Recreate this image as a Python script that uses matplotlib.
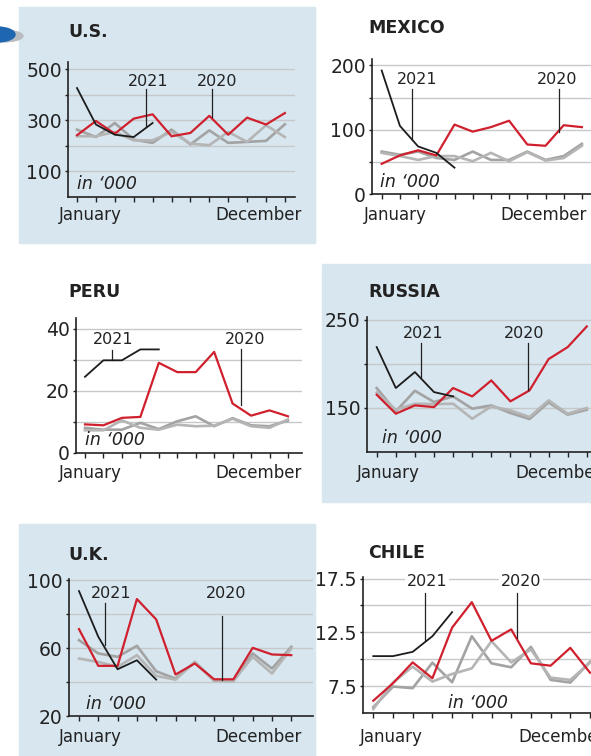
import matplotlib.pyplot as plt
from matplotlib.patches import Rectangle, Ellipse
from matplotlib.lines import Line2D

plt.rcParams['font.family'] = ['DejaVu Sans']

W, H = 591, 756
months = list(range(12))

# ---- data (thousands of arrivals per month) ----
us_2020 = [242, 298, 248, 307, 324, 238, 251, 318, 244, 311, 284, 329]
us_2021 = [427, 284, 244, 235, 290]
us_prev1 = [264, 235, 290, 225, 212, 264, 206, 261, 212, 216, 220, 285]
us_prev2 = [238, 238, 255, 222, 222, 255, 209, 203, 255, 216, 281, 235]

mx_2020 = [47, 60, 68, 60, 108, 97, 104, 114, 77, 75, 107, 104]
mx_2021 = [192, 106, 74, 64, 41]
mx_prev1 = [66, 61, 66, 56, 53, 66, 53, 53, 66, 53, 59, 78]
mx_prev2 = [64, 59, 53, 59, 59, 51, 64, 51, 65, 52, 56, 75]

pe_2020 = [9.2, 8.9, 11.3, 11.6, 29.0, 26.0, 26.0, 32.5, 15.9, 12.0, 13.7, 11.8]
pe_2021 = [24.5, 29.8, 29.8, 33.3, 33.3]
pe_prev1 = [8.1, 7.5, 7.5, 9.7, 7.7, 10.2, 11.8, 8.6, 11.2, 8.9, 8.6, 10.4]
pe_prev2 = [7.3, 7.3, 10.5, 8.1, 7.5, 9.1, 8.6, 8.8, 11.0, 8.6, 8.1, 10.8]

ru_2020 = [164.9, 143.4, 152.8, 150.9, 172.5, 163.0, 181.1, 157.4, 169.8, 205.3, 218.9, 242.3]
ru_2021 = [218.9, 172.5, 190.6, 167.9, 163.0]
ru_prev1 = [172.5, 146.0, 169.4, 156.6, 163.0, 149.1, 152.8, 144.2, 137.4, 156.2, 142.3, 147.9]
ru_prev2 = [167.5, 147.9, 154.7, 154.3, 154.7, 137.7, 151.7, 147.2, 139.6, 158.5, 143.4, 149.8]

uk_2020 = [71.1, 49.5, 49.5, 88.8, 76.8, 44.4, 50.9, 41.6, 41.6, 60.1, 56.2, 55.8]
uk_2021 = [93.5, 66.6, 47.5, 52.8, 41.4]
uk_prev1 = [64.6, 56.8, 54.8, 61.3, 46.3, 42.0, 51.8, 41.0, 40.6, 56.8, 47.9, 60.7]
uk_prev2 = [53.8, 51.8, 48.9, 55.8, 43.6, 41.4, 51.8, 40.6, 40.6, 54.8, 45.0, 59.7]

cl_2020 = [6.14, 7.77, 9.71, 8.23, 12.94, 15.31, 11.71, 12.78, 9.62, 9.40, 11.06, 8.75]
cl_2021 = [10.29, 10.29, 10.69, 12.14, 14.38]
cl_prev1 = [5.55, 7.46, 7.31, 9.68, 7.86, 12.14, 9.62, 9.25, 11.15, 8.08, 7.83, 9.77]
cl_prev2 = [5.37, 7.83, 9.31, 7.92, 8.63, 9.15, 11.68, 9.71, 10.91, 8.29, 8.08, 9.68]

RED = '#d0202e'
BLACK = '#1c1c1c'
GRAY1 = '#a3a3a3'
GRAY2 = '#b5b5b5'
BLUE_BG = '#d7e6ef'
INK = '#222222'

fig = plt.figure(figsize=(W / 100, H / 100), dpi=100)


def fx(x):
    return x / W


def fy(y):
    return 1 - y / H


# light blue panels
for (x0, y0, x1, y1) in [(19, 7, 315, 243), (322, 264, 591, 502), (19, 524, 315, 756)]:
    fig.add_artist(Rectangle((fx(x0), fy(y1)), fx(x1) - fx(x0), fy(y0) - fy(y1),
                             transform=fig.transFigure, color=BLUE_BG, zorder=0))

# piece of logo peeking in at top left
fig.add_artist(Ellipse((fx(2), fy(36)), fx(42), 12 / H, transform=fig.transFigure,
                       color='#b9bcc0', zorder=1))
fig.add_artist(Ellipse((fx(-3), fy(34.5)), fx(36), 15 / H, transform=fig.transFigure,
                       color='#1e67b0', zorder=2))

panels = [
    dict(title='U.S.', d=(us_2020, us_2021, us_prev1, us_prev2),
         grid=[100, 200, 300, 400, 500], ticks=[100, 300, 500], tl=['100', '300', '500'],
         box=(68, 295, 197, 62), x0=77, dx=18.9, ylim=(0, 529),
         tpos=(68, 32), jan=(59, 215), dec=(302, 215, 'right'),
         a21=(148, 81, 146, 89, 127), a20=(217, 81, 212, 89, 117), inn=(77, 184)),
    dict(title='MEXICO', d=(mx_2020, mx_2021, mx_prev1, mx_prev2),
         grid=[50, 100, 150, 200], ticks=[0, 100, 200], tl=['0', '100', '200'],
         box=(372, 600, 194, 59), x0=381.7, dx=18.2, ylim=(0, 210),
         tpos=(368, 28), jan=(364, 215), dec=(587, 215, 'right'),
         a21=(417, 80, 412, 89, 140), a20=(557, 80, 559, 89, 132), inn=(380, 182)),
    dict(title='PERU', d=(pe_2020, pe_2021, pe_prev1, pe_prev2),
         grid=[10, 20, 30, 40], ticks=[0, 20, 40], tl=['0', '20', '40'],
         box=(76, 302, 453, 318), x0=85, dx=18.45, ylim=(0, 43.4),
         tpos=(68, 292), jan=(59, 473), dec=(302, 473, 'right'),
         a21=(113, 340, 112, 350, 360), a20=(245, 340, 241, 349, 405), inn=(85, 440)),
    dict(title='RUSSIA', d=(ru_2020, ru_2021, ru_prev1, ru_prev2),
         grid=[150, 200, 250], ticks=[150, 250], tl=['150', '250'],
         box=(367, 600, 452, 317), x0=376.7, dx=19.1, ylim=(100, 253),
         tpos=(368, 292), jan=(357, 473), dec=(515, 473, 'left'),
         a21=(423, 333, 421, 343, 377), a20=(524, 333, 528, 343, 390), inn=(382, 438)),
    dict(title='U.K.', d=(uk_2020, uk_2021, uk_prev1, uk_prev2),
         grid=[40, 60, 80, 100], ticks=[20, 60, 100], tl=['20', '60', '100'],
         box=(69, 313, 716, 579), x0=79, dx=19.3, ylim=(20, 100.6),
         tpos=(68, 555), jan=(59, 737), dec=(302, 737, 'right'),
         a21=(111, 593, 105, 603, 645), a20=(226, 593, 222, 616, 680), inn=(86, 704)),
    dict(title='CHILE', d=(cl_2020, cl_2021, cl_prev1, cl_prev2),
         grid=[7.5, 10, 12.5, 15, 17.5], ticks=[7.5, 12.5, 17.5], tl=['7.5', '12.5', '17.5'],
         box=(363, 620, 713, 577), x0=373.3, dx=19.7, ylim=(5, 17.65),
         tpos=(368, 553), jan=(360, 737), dec=(518, 737, 'left'),
         a21=(427, 581, 425, 593, 640), a20=(521, 581, 517, 593, 638), inn=(448, 703)),
]

for p in panels:
    left, right, bottom, top = p['box']
    ax = fig.add_axes([fx(left), fy(bottom), fx(right) - fx(left), fy(top) - fy(bottom)])
    ax.patch.set_alpha(0)
    ax.set_xlim((left - p['x0']) / p['dx'], (right - p['x0']) / p['dx'])
    ax.set_ylim(*p['ylim'])
    for s in ['top', 'right']:
        ax.spines[s].set_visible(False)
    for s in ['left', 'bottom']:
        ax.spines[s].set_color(INK)
        ax.spines[s].set_linewidth(1.2)
    for g in p['grid']:
        ax.axhline(g, color='#c6c8ca', lw=1.0, zorder=1)
    ax.set_xticks(months)
    ax.set_xticklabels([])
    yt = sorted(set(p['grid']) | set(p['ticks']))
    ax.set_yticks(yt)
    ax.set_yticklabels([p['tl'][p['ticks'].index(g)] if g in p['ticks'] else '' for g in yt])
    ax.tick_params(axis='x', length=3.5, width=1.0, color=INK, direction='out')
    ax.tick_params(axis='y', length=2.5, width=1.0, color=INK, pad=2,
                   labelsize=13.5, labelcolor=INK)

    y20, y21, g1, g2 = p['d']
    ax.plot(months, g1, color=GRAY1, lw=1.9, zorder=2)
    ax.plot(months, g2, color=GRAY2, lw=1.9, zorder=2)
    ax.plot(months, y20, color=RED, lw=1.6, zorder=3)
    ax.plot(months[:len(y21)], y21, color=BLACK, lw=1.3, zorder=4)

    fig.text(fx(p['tpos'][0]), fy(p['tpos'][1]), p['title'], fontsize=12.5,
             fontweight='bold', color=INK, ha='left', va='center')
    fig.text(fx(p['jan'][0]), fy(p['jan'][1]), 'January', fontsize=12,
             color=INK, ha='left', va='center')
    fig.text(fx(p['dec'][0]), fy(p['dec'][1]), 'December', fontsize=12,
             color=INK, ha=p['dec'][2], va='center')
    fig.text(fx(p['inn'][0]), fy(p['inn'][1]), 'in \u2018000', fontsize=12.5,
             style='italic', color=INK, ha='left', va='center', zorder=5)
    for lab, key in [('2021', 'a21'), ('2020', 'a20')]:
        tx, ty, lx, ly0, ly1 = p[key]
        box = dict(facecolor='white', edgecolor='none', pad=1) if p['title'] == 'CHILE' else None
        fig.text(fx(tx), fy(ty), lab, fontsize=11.5, color=INK, ha='center',
                 va='center', zorder=6, bbox=box)
        fig.add_artist(Line2D([fx(lx), fx(lx)], [fy(ly0), fy(ly1)], transform=fig.transFigure,
                              color=INK, lw=0.9, zorder=6))

fig.savefig('out.png', dpi=100)
